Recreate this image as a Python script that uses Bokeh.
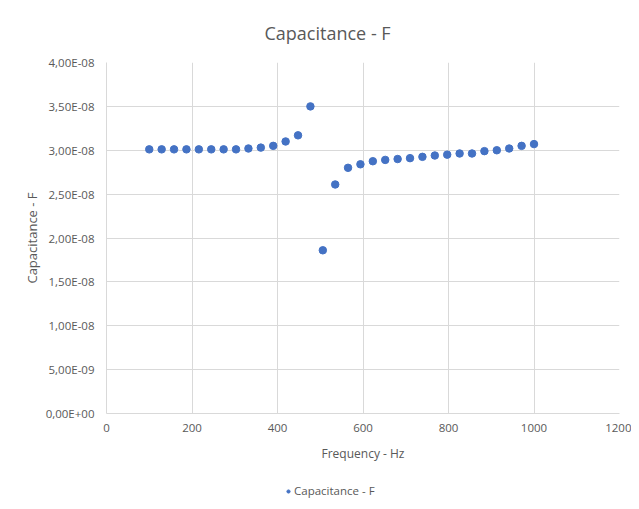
from bokeh.plotting import figure
from bokeh.layouts import column
from bokeh.models import Range1d, FixedTicker, CustomJSTickFormatter, Legend, LegendItem
from bokeh.embed import file_html
from bokeh.resources import INLINE

# Data
frequency_hz = [100, 129, 158, 187, 216, 245, 274, 303, 332, 361, 390, 419, 448, 477,
                506, 535, 565, 594, 623, 652, 681, 710, 739, 768, 797, 826, 855, 884,
                913, 942, 971, 1000]
capacitance_f = [3.01e-8, 3.01e-8, 3.01e-8, 3.01e-8, 3.01e-8, 3.01e-8, 3.01e-8, 3.01e-8,
                 3.02e-8, 3.03e-8, 3.05e-8, 3.10e-8, 3.17e-8, 3.50e-8,
                 1.86e-8, 2.61e-8, 2.80e-8, 2.84e-8, 2.875e-8, 2.89e-8, 2.90e-8, 2.91e-8,
                 2.925e-8, 2.94e-8, 2.95e-8, 2.963e-8, 2.963e-8, 2.99e-8, 3.00e-8, 3.02e-8,
                 3.05e-8, 3.07e-8]
x_ticks = [0, 200, 400, 600, 800, 1000, 1200]
y_ticks = [0, 5e-9, 1e-8, 1.5e-8, 2e-8, 2.5e-8, 3e-8, 3.5e-8, 4e-8]
series_name = "Capacitance - F"

FONT = "Open Sans"
TXT = "#595959"
GRID = "#d9d9d9"
BLUE = "#4472C4"

p = figure(frame_width=513, frame_height=351, output_backend="svg", toolbar_location=None,
           x_range=Range1d(0, 1200), y_range=Range1d(0, 4e-8),
           min_border_left=106, min_border_right=12, min_border_top=62, min_border_bottom=60)

p.title.text = "Capacitance - F"
p.title.align = "left"
p.title.text_font = FONT
p.title.text_font_size = "18px"
p.title.text_font_style = "normal"
p.title.text_color = TXT
p.title.offset = 158
p.title.standoff = 36

r = p.scatter(frequency_hz, capacitance_f, size=7.5, color=BLUE, line_color=BLUE)

p.xaxis.ticker = FixedTicker(ticks=x_ticks)
p.yaxis.ticker = FixedTicker(ticks=y_ticks)
p.yaxis.formatter = CustomJSTickFormatter(code="""
var s = tick.toExponential(2);
var parts = s.split('e');
var mant = parts[0].replace('.', ',');
var e = parseInt(parts[1]);
var sign = e < 0 ? '-' : '+';
var a = Math.abs(e);
return mant + 'E' + sign + (a < 10 ? '0' : '') + a;
""")

for ax in (p.xaxis, p.yaxis):
    ax.major_tick_line_color = None
    ax.minor_tick_line_color = None
    ax.major_tick_out = 0
    ax.major_tick_in = 0
    ax.minor_tick_out = 0
    ax.axis_line_color = GRID
    ax.major_label_text_font = FONT
    ax.major_label_text_font_size = "11.5px"
    ax.major_label_text_color = TXT
    ax.axis_label_text_font = FONT
    ax.axis_label_text_color = TXT
    ax.axis_label_text_font_style = "normal"

p.xaxis.axis_label = "Frequency - Hz"
p.yaxis.axis_label = "Capacitance - F"
p.xaxis.axis_label_text_font_size = "12px"
p.yaxis.axis_label_text_font_size = "13px"
p.xaxis.major_label_standoff = 10
p.yaxis.major_label_standoff = 12
p.xaxis.axis_label_standoff = 10
p.yaxis.axis_label_standoff = 2

p.xgrid.grid_line_color = GRID
p.ygrid.grid_line_color = GRID
p.outline_line_color = None

# Legend strip below the chart (its frame is aligned with the chart's frame by the column)
p2 = figure(width=631, height=30, output_backend="svg", toolbar_location=None,
            x_range=Range1d(-2, -1), y_range=Range1d(-2, -1),
            min_border_left=0, min_border_right=0, min_border_top=0, min_border_bottom=0)
p2.axis.visible = False
p2.grid.visible = False
p2.outline_line_color = None
# same series, outside this strip's visible ranges; used only for the legend swatch
r2 = p2.scatter(frequency_hz, capacitance_f, size=7.5, color=BLUE, line_color=BLUE)

legend = Legend(items=[LegendItem(label=series_name, renderers=[r2])],
                orientation="horizontal", location=(178, 5),
                label_text_font=FONT, label_text_font_size="11.5px", label_text_color=TXT,
                border_line_color=None, background_fill_alpha=0,
                glyph_width=8, glyph_height=8, label_standoff=2, label_height=14,
                margin=0, padding=0, spacing=0)
p2.add_layout(legend, "center")

layout = column(p, p2, spacing=0)
open("out.html", "w").write(file_html(layout, INLINE))
